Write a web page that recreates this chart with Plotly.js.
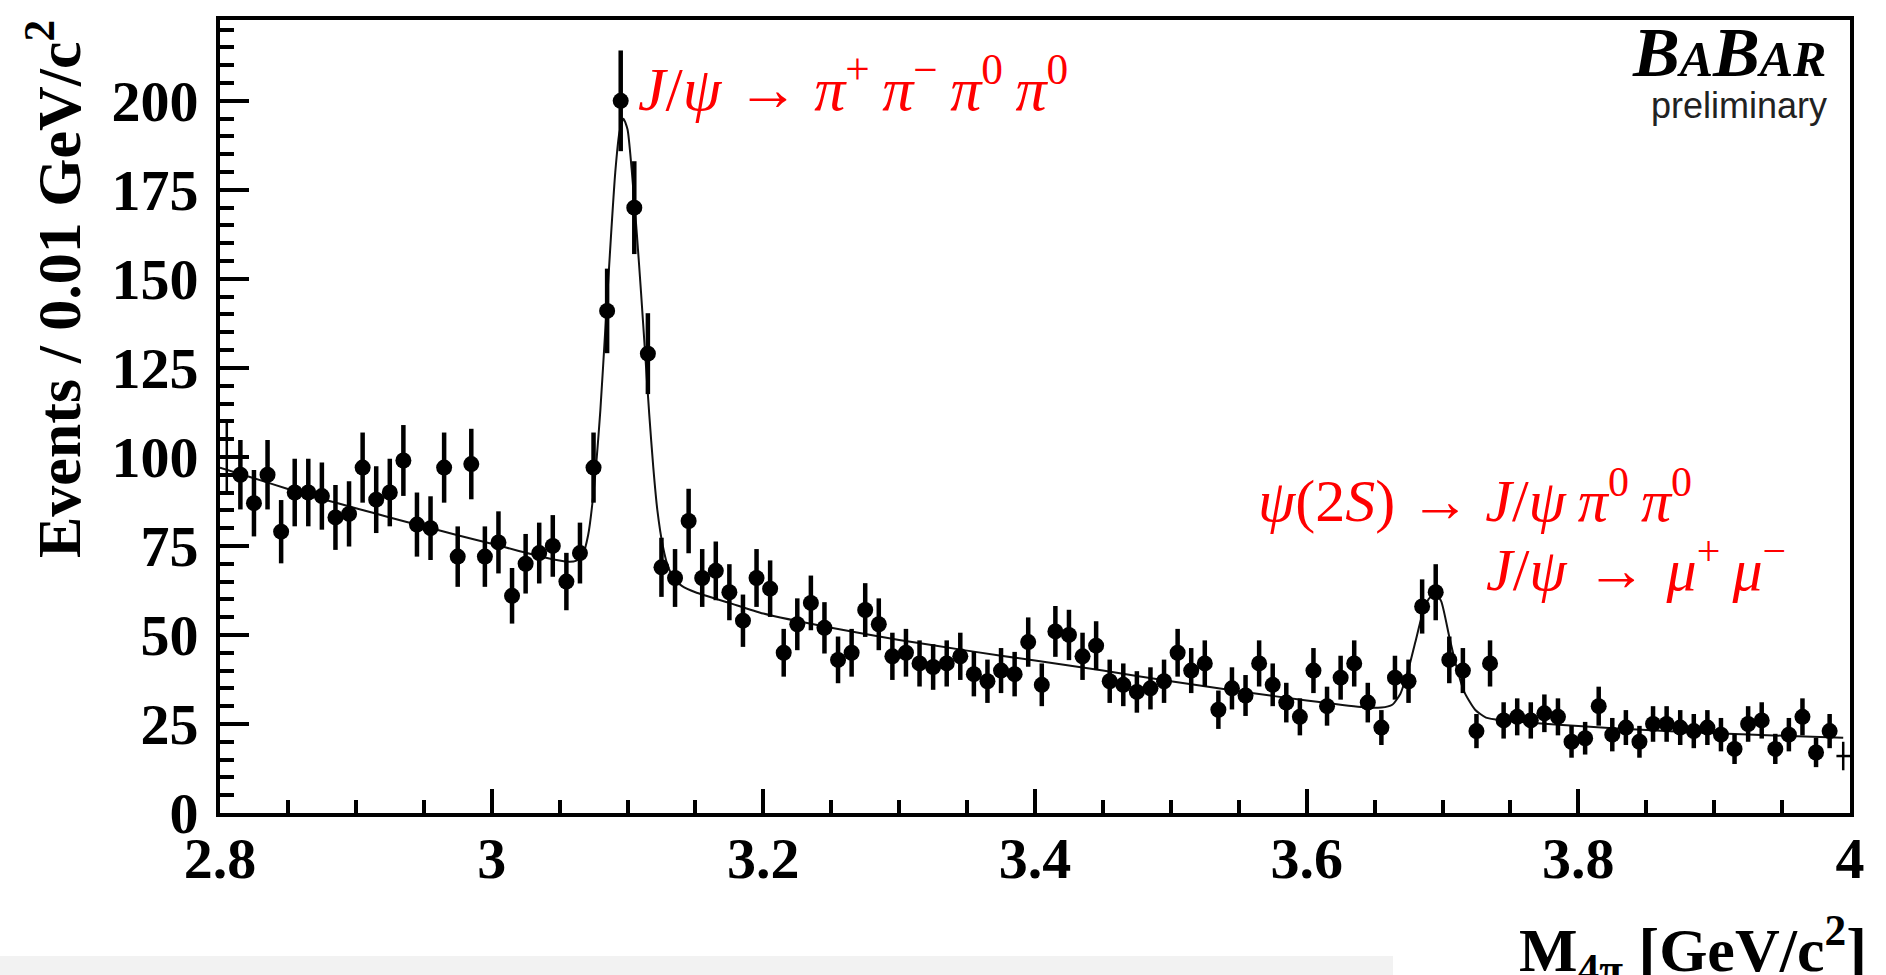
<!DOCTYPE html>
<html>
<head>
<meta charset="utf-8">
<script src="https://cdn.plot.ly/plotly-3.0.1.min.js"></script>
<style>
  html, body { margin: 0; padding: 0; background: #ffffff; }
  #chart { width: 1886px; height: 975px; }
</style>
</head>
<body>
<div id="chart"></div>
<script>
// ---- Histogram binning (0.01 GeV/c^2 bins from 2.80 to 4.00) ----
const binStart = 2.80;
const binWidth = 0.01;

// ---- Events per bin ----
const counts = [
  100, 95, 87, 95, 79, 90, 90, 89, 83, 84,
  97, 88, 90, 99, 81, 80, 97, 72, 98, 72,
  76, 61, 70, 73, 75, 65, 73, 97, 141, 200,
  170, 129, 69, 66, 82, 66, 68, 62, 54, 66,
  63, 45, 53, 59, 52, 43, 45, 57, 53, 44,
  45, 42, 41, 42, 44, 39, 37, 40, 39, 48,
  36, 51, 50, 44, 47, 37, 36, 34, 35, 37,
  45, 40, 42, 29, 35, 33, 42, 36, 31, 27,
  40, 30, 38, 42, 31, 24, 38, 37, 58, 62,
  43, 40, 23, 42, 26, 27, 26, 28, 27, 20,
  21, 30, 22, 24, 20, 25, 25, 24, 23, 24,
  22, 18, 25, 26, 18, 22, 27, 17, 23, 16
];

// ---- Fit curve ----
const fitX = [2.800, 2.825, 2.850, 2.875, 2.900, 2.925, 2.950, 2.975, 3.000, 3.020,
              3.040, 3.055, 3.062, 3.067, 3.071, 3.075, 3.080, 3.084, 3.088, 3.091,
              3.094, 3.097, 3.100, 3.103, 3.107, 3.110, 3.113, 3.116, 3.119, 3.122,
              3.126, 3.130, 3.135, 3.140, 3.150, 3.175, 3.200, 3.250, 3.300, 3.350,
              3.400, 3.450, 3.500, 3.550, 3.600, 3.640, 3.655, 3.663, 3.669, 3.675,
              3.680, 3.685, 3.690, 3.695, 3.699, 3.705, 3.710, 3.716, 3.724, 3.732,
              3.745, 3.770, 3.800, 3.850, 3.900, 3.950, 3.995];
const fitY = [97.0, 94.0, 91.0, 88.2, 85.6, 83.0, 80.5, 78.0, 75.6, 73.6,
              71.7, 70.6, 70.8, 72.5, 78.0, 90.0, 113, 138, 163, 180,
              191, 195, 192, 181, 162, 146, 129, 112, 97.0, 85.0,
              75.0, 69.0, 65.5, 63.8, 62.0, 59.0, 56.0, 52.0, 48.6, 45.6,
              42.8, 40.0, 37.0, 34.2, 31.6, 29.8, 29.6, 30.4, 33.5, 40.5,
              48.0, 55.5, 60.2, 61.5, 59.5, 49.5, 41.5, 34.0, 29.0, 26.8,
              26.0, 25.2, 24.4, 23.3, 22.4, 21.7, 21.1];

// ---- Axis ticks ----
const xTickVals = [2.8, 3.0, 3.2, 3.4, 3.6, 3.8, 4.0];
const xTickText = ['2.8', '3', '3.2', '3.4', '3.6', '3.8', '4'];
const yTickVals = [0, 25, 50, 75, 100, 125, 150, 175, 200];
const yTickText = ['0', '25', '50', '75', '100', '125', '150', '175', '200'];

// ---- Derived arrays ----
const binCenters = counts.map((_, i) => +(binStart + binWidth * (i + 0.5)).toFixed(3));
const lastIdx = counts.length - 1;
const mainX = binCenters.slice(1, lastIdx);
const mainY = counts.slice(1, lastIdx);
const edgeX = [binCenters[0], binCenters[lastIdx]];
const edgeY = [counts[0], counts[lastIdx]];

// ---- Layout geometry (pixels) ----
const W = 1886, H = 975;
const M = { l: 220, r: 36, t: 20, b: 162 };
const PW = W - M.l - M.r, PH = H - M.t - M.b;
const px = (x) => (x - M.l) / PW;           // page x -> paper x
const py = (y) => (H - M.b - y) / PH;       // page y -> paper y

const serif = 'Liberation Serif, DejaVu Serif, serif';
const red = '#ff0000';
const thin = '\u2009';
const hair = '\u200A';

const traces = [
  {
    type: 'scatter', mode: 'lines',
    x: fitX, y: fitY,
    line: { color: '#111111', width: 2, shape: 'spline', smoothing: 0.6 },
    hoverinfo: 'skip', showlegend: false
  },
  {
    type: 'scatter', mode: 'markers',
    x: mainX, y: mainY,
    marker: { color: '#000000', size: 16, symbol: 'circle' },
    error_y: { type: 'sqrt', visible: true, color: '#000000', thickness: 4.5, width: 0 },
    showlegend: false
  },
  {
    type: 'scatter', mode: 'markers',
    x: edgeX, y: edgeY,
    marker: { color: 'rgba(0,0,0,0)', size: 1 },
    error_y: { type: 'sqrt', visible: true, color: '#000000', thickness: 2.5, width: 0 },
    error_x: { type: 'constant', value: binWidth / 2, visible: true, color: '#000000', thickness: 2.5, width: 0 },
    showlegend: false
  }
];

const layout = {
  width: W, height: H,
  margin: M,
  paper_bgcolor: '#ffffff',
  plot_bgcolor: '#ffffff',
  showlegend: false,
  font: { family: serif, color: '#000000' },
  xaxis: {
    range: [2.8, 4.0],
    tickmode: 'array', tickvals: xTickVals, ticktext: xTickText,
    ticks: 'inside', ticklen: 24, tickwidth: 4, tickcolor: '#000000',
    minor: { dtick: 0.05, ticks: 'inside', ticklen: 13, tickwidth: 4, tickcolor: '#000000', showgrid: false },
    showline: true, linecolor: '#000000', linewidth: 4, mirror: true,
    showgrid: false, zeroline: false,
    tickfont: { family: serif, size: 58, weight: 'bold', color: '#000000' },
    ticklabelstandoff: -9
  },
  yaxis: {
    range: [0, 222.7],
    tickmode: 'array', tickvals: yTickVals, ticktext: yTickText,
    ticks: 'inside', ticklen: 29, tickwidth: 4, tickcolor: '#000000',
    minor: { dtick: 5, ticks: 'inside', ticklen: 14, tickwidth: 4, tickcolor: '#000000', showgrid: false },
    showline: true, linecolor: '#000000', linewidth: 4, mirror: true,
    showgrid: false, zeroline: false,
    tickfont: { family: serif, size: 58, weight: 'bold', color: '#000000' },
    ticklabelstandoff: 6
  },
  shapes: [
    { type: 'rect', xref: 'paper', yref: 'paper', layer: 'below',
      x0: px(0), x1: px(1393), y0: py(956), y1: py(990),
      fillcolor: '#f2f2f2', line: { width: 0 } }
  ],
  annotations: [
    { xref: 'paper', yref: 'paper', x: px(54), y: py(18), xanchor: 'center', yanchor: 'top',
      textangle: -90, showarrow: false,
      text: '<b>Events / 0.01 GeV/c<sup>2</sup></b>',
      font: { family: serif, size: 62, color: '#000000' } },
    { xref: 'paper', yref: 'paper', x: px(1869), y: py(949), xanchor: 'right', yanchor: 'middle',
      showarrow: false,
      text: '<b>M<sub>4π</sub> [GeV/c<sup>2</sup>]</b>',
      font: { family: serif, size: 62, color: '#000000' } },
    { xref: 'paper', yref: 'paper', x: px(636), y: py(84), xanchor: 'left', yanchor: 'middle',
      showarrow: false,
      text: '<i>J</i>/<i>ψ</i> → <i>π</i><sup>+</sup>' + thin + '<i>π</i><sup>−</sup>' + thin +
            '<i>π</i><sup>0</sup>' + thin + '<i>π</i><sup>0</sup>',
      font: { family: serif, size: 62, color: red } },
    { xref: 'paper', yref: 'paper', x: px(1256), y: py(496), xanchor: 'left', yanchor: 'middle',
      showarrow: false,
      text: '<i>ψ</i>(2<i>S</i>) → <i>J</i>/<i>ψ</i>' + thin + '<i>π</i><sup>0</sup>' + thin + '<i>π</i><sup>0</sup>',
      font: { family: serif, size: 60, color: red } },
    { xref: 'paper', yref: 'paper', x: px(1484), y: py(565), xanchor: 'left', yanchor: 'middle',
      showarrow: false,
      text: '<i>J</i>/<i>ψ</i> ' + hair + '→ ' + hair + '<i>μ</i><sup>+</sup>' + thin + '<i>μ</i><sup>−</sup>',
      font: { family: serif, size: 60, color: red } },
    { xref: 'paper', yref: 'paper', x: px(1828), y: py(52), xanchor: 'right', yanchor: 'middle',
      showarrow: false,
      text: '<b><i>B<span style="font-size:50px">A</span>B<span style="font-size:50px">AR</span></i></b>',
      font: { family: serif, size: 70, color: '#000000' } },
    { xref: 'paper', yref: 'paper', x: px(1829), y: py(106), xanchor: 'right', yanchor: 'middle',
      showarrow: false,
      text: 'preliminary',
      font: { family: 'Liberation Sans, Arial, sans-serif', size: 36, color: '#222222' } }
  ]
};

Plotly.newPlot('chart', traces, layout, { displayModeBar: false, staticPlot: true });
</script>
</body>
</html>
